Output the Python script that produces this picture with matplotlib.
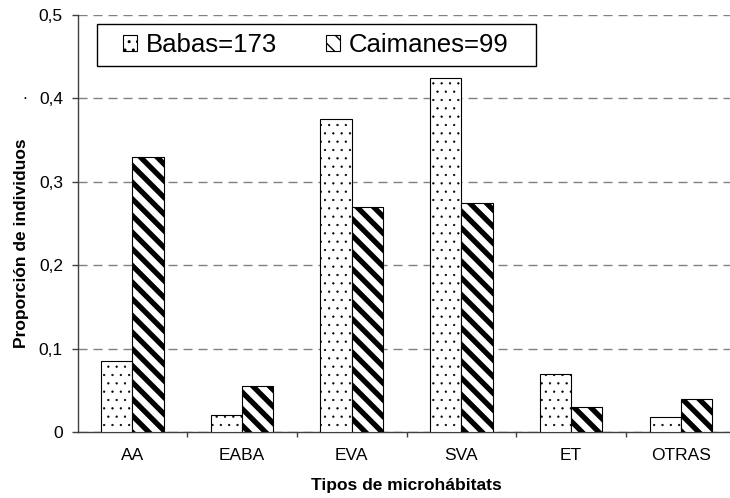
import matplotlib
matplotlib.use('Agg')
import matplotlib.pyplot as plt
from matplotlib.patches import Rectangle
import numpy as np

# microhabitat categories and proportion of individuals per species
categories = ['AA', 'EABA', 'EVA', 'SVA', 'ET', 'OTRAS']
babas = [0.085, 0.02, 0.375, 0.425, 0.07, 0.018]
caimanes = [0.33, 0.055, 0.27, 0.275, 0.03, 0.04]
series_labels = ['Babas=173', 'Caimanes=99']
y_ticks = [0, 0.1, 0.2, 0.3, 0.4, 0.5]
y_tick_labels = ['0', '0,1', '0,2', '0,3', '0,4', '0,5']

plt.rcParams['font.family'] = ['Liberation Sans', 'DejaVu Sans']

fig = plt.figure(figsize=(7.3, 4.98), dpi=100)
ax = fig.add_axes([77.5 / 730, 66 / 498, 658.2 / 730, 417 / 498])

x = np.arange(len(categories))
w = 0.285


def draw_bars(xpos, values, hatch, hlw, label):
    with plt.rc_context({'hatch.linewidth': hlw}):
        bars = ax.bar(xpos, values, w, color='white', edgecolor='black',
                      linewidth=0.8, hatch=hatch, label=label, zorder=3)
    for b in bars:
        if hasattr(b, 'set_hatch_linewidth'):
            b.set_hatch_linewidth(hlw)
    return bars


draw_bars(x - w / 2, babas, '..', 0.4, series_labels[0])
draw_bars(x + w / 2, caimanes, '\\\\', 3.8, series_labels[1])

ax.set_xlim(-0.5, 5.5)
ax.set_ylim(0, 0.5)

# dashed horizontal grid
ax.set_yticks(y_ticks)
ax.set_yticklabels(y_tick_labels, fontsize=12.5)
ax.yaxis.grid(True, color='#808080', linewidth=1, linestyle=(0, (6.5, 4.3)), zorder=0)
ax.set_axisbelow(True)

# category separators as major ticks, names on minor ticks
ax.set_xticks(x[:-1] + 0.5)
ax.set_xticklabels([])
ax.set_xticks(x, minor=True)
ax.set_xticklabels(categories, minor=True, fontsize=12.5)
ax.tick_params(axis='x', which='major', direction='out', length=3.6, width=1, color='#404040')
ax.tick_params(axis='x', which='minor', length=0, pad=11.5)
ax.tick_params(axis='y', direction='out', length=4.3, width=1, color='#404040', pad=6.2)

for side in ['top', 'right']:
    ax.spines[side].set_visible(False)
for side in ['left', 'bottom']:
    ax.spines[side].set_color('#404040')
    ax.spines[side].set_linewidth(1)

ax.set_xlabel('Tipos de microhábitats', fontsize=12.5, fontweight='bold')
ax.xaxis.set_label_coords(0.5, -0.1096)
ax.set_ylabel('Proporción de individuos', fontsize=12.5, fontweight='bold', va='center')
ax.yaxis.set_label_coords(-0.0845, 0.453)

# legend box
ax.add_patch(Rectangle((0.030, 0.878), 0.666, 0.100, transform=ax.transAxes,
                       facecolor='white', edgecolor='black', linewidth=1,
                       zorder=4, clip_on=False))
leg = ax.legend(loc='center left', bbox_to_anchor=(0.0686, 0.928), frameon=False,
                ncol=2, fontsize=18.5, borderpad=0, borderaxespad=0,
                handlelength=0.55, handleheight=0.55, handletextpad=0.35,
                columnspacing=1.9)
leg.set_zorder(5)

fig.text(25 / 730, 1 - 99 / 498, '.', fontsize=12.5, ha='center', va='baseline')

fig.savefig('out.png', dpi=100)
